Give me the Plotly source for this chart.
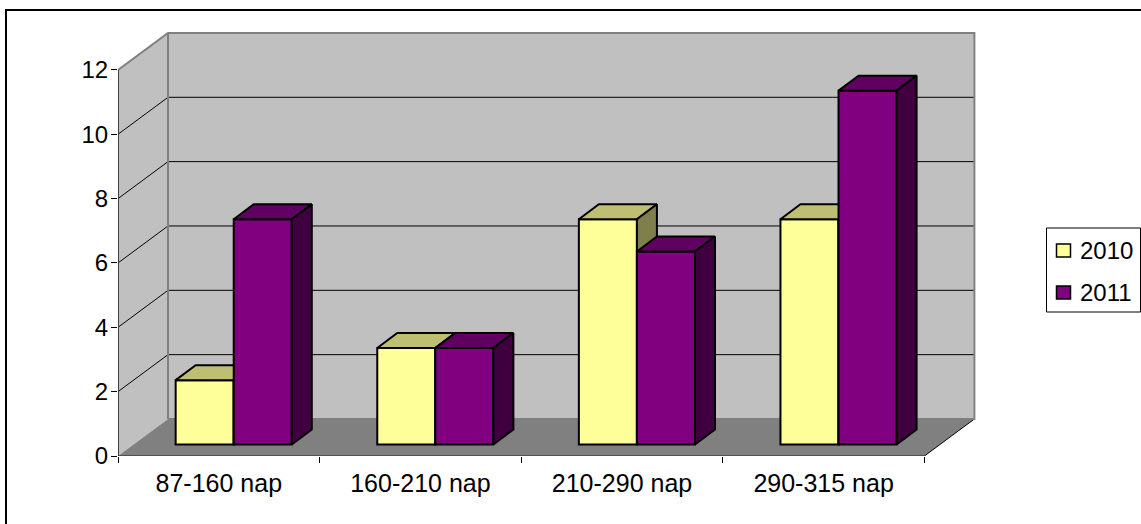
import plotly.graph_objects as go

categories = ["87-160 nap", "160-210 nap", "210-290 nap", "290-315 nap"]
series_names = ["2010", "2011"]
values_2010 = [2, 3, 7, 7]
values_2011 = [7, 3, 6, 11]
y_ticks = [0, 2, 4, 6, 8, 10, 12]

W, H = 1141, 524
X0, PX_GROUP = 118.0, 201.6      # pixel position of the axis origin, pixels per category
Y0, PX_UNIT = 456.0, 32.17       # pixel position of value 0, pixels per value unit
PLOT_R, PLOT_T = 977.0, 29.0

# 3-D projection offsets, in axis units
WALL_DX, WALL_DY = 50 / PX_GROUP, 37 / PX_UNIT
BAR_OFF, BAR_W = 0.286, 0.288
BASE = 11.5 / PX_UNIT
DEPTH_DX, DEPTH_DY = 20 / PX_GROUP, 15 / PX_UNIT
N = len(categories)
YMAX = max(y_ticks)

FONT = "Liberation Sans, Arial, sans-serif"
fig = go.Figure()


def poly(xs, ys, fill, axes, line_color="black", line_width=2):
    fig.add_trace(go.Scatter(
        x=xs + xs[:1], y=ys + ys[:1], mode="lines", fill="toself", fillcolor=fill,
        line=dict(color=line_color, width=line_width, simplify=False), showlegend=False,
        hoverinfo="skip", xaxis=axes[0], yaxis=axes[1], cliponaxis=False))


def bars(name, values, slot, front, top, side, axes):
    left = [i + BAR_OFF + slot * BAR_W for i in range(N)]
    fig.add_trace(go.Bar(
        name=name, x=[l + BAR_W / 2 for l in left], y=values, base=[BASE] * N, width=BAR_W,
        marker=dict(color=front, line=dict(color="black", width=2)), showlegend=False,
        xaxis=axes[0], yaxis=axes[1], cliponaxis=False))
    for l, v in zip(left, values):
        r, t = l + BAR_W, BASE + v
        poly([l, r, r + DEPTH_DX, l + DEPTH_DX], [t, t, t + DEPTH_DY, t + DEPTH_DY], top, axes)
        poly([r, r + DEPTH_DX, r + DEPTH_DX, r], [BASE, BASE + DEPTH_DY, t + DEPTH_DY, t], side, axes)


bars(series_names[0], values_2010, 0, "#FFFF99", "#BFBF73", "#7F7F4C", ("x", "y"))
bars(series_names[1], values_2011, 1, "#800080", "#600060", "#400040", ("x2", "y2"))

# front axis lines
fig.add_trace(go.Scatter(x=[0, 0], y=[0, YMAX], mode="lines", line=dict(color="#404040", width=2),
                         showlegend=False, hoverinfo="skip", cliponaxis=False))
fig.add_trace(go.Scatter(x=[0, N], y=[0, 0], mode="lines", line=dict(color="#202020", width=1.2),
                         showlegend=False, hoverinfo="skip", cliponaxis=False))

shapes = []


def path_shape(pts, fill=None, color=None, width=1):
    d = "M " + " L ".join(f"{x},{y}" for x, y in pts) + (" Z" if fill else "")
    shapes.append(dict(type="path", path=d, xref="x", yref="y", layer="below",
                       fillcolor=fill or "rgba(0,0,0,0)",
                       line=dict(color=color or "rgba(0,0,0,0)", width=width)))


wx, wy = WALL_DX, WALL_DY
path_shape([(0, 0), (wx, wy), (wx, YMAX + wy), (0, YMAX)], fill="#C0C0C0")
path_shape([(wx, wy), (N + wx, wy), (N + wx, YMAX + wy), (wx, YMAX + wy)], fill="#C0C0C0")
path_shape([(0, 0), (N, 0), (N + wx, wy), (wx, wy)], fill="#808080")
for v in y_ticks[1:-1]:
    path_shape([(0, v), (wx, v + wy), (N + wx, v + wy)], color="black", width=1)
path_shape([(N, 0), (N + wx, wy)], color="black", width=1)
path_shape([(0, YMAX), (wx, YMAX + wy), (N + wx, YMAX + wy), (N + wx, wy), (wx, wy)], color="#808080", width=2)
path_shape([(wx, wy), (wx, YMAX + wy)], color="#808080", width=2)

# chart frame (only top and left edges fall inside the picture)
shapes.append(dict(type="rect", xref="paper", yref="paper", x0=6 / W, x1=1.02, y0=-0.02, y1=1 - 10 / H,
                   line=dict(color="black", width=2), fillcolor="rgba(0,0,0,0)", layer="below"))

# legend
shapes.append(dict(type="rect", xref="paper", yref="paper", x0=1046.5 / W, x1=1140.5 / W,
                   y0=1 - 312 / H, y1=1 - 228 / H, line=dict(color="black", width=1), fillcolor="white"))
annotations = []
for name, col, yc in zip(series_names, ["#FFFF99", "#800080"], [250.0, 292.0]):
    shapes.append(dict(type="rect", xref="paper", yref="paper", x0=1056.5 / W, x1=1070.5 / W,
                       y0=1 - (yc + 7) / H, y1=1 - (yc - 6) / H,
                       line=dict(color="black", width=1.5), fillcolor=col))
    annotations.append(dict(text=name, xref="paper", yref="paper", x=1078 / W, y=1 - yc / H,
                            xanchor="left", yanchor="middle", showarrow=False,
                            font=dict(family=FONT, size=24, color="black")))

x_range = [0, (PLOT_R - X0) / PX_GROUP]
y_range = [0, (Y0 - PLOT_T) / PX_UNIT]
dom_x = [X0 / W, PLOT_R / W]
dom_y = [1 - Y0 / H, 1 - PLOT_T / H]

fig.update_layout(
    width=W, height=H, margin=dict(l=0, r=0, t=0, b=0), paper_bgcolor="white", plot_bgcolor="rgba(0,0,0,0)",
    barmode="overlay", showlegend=False, shapes=shapes, annotations=annotations,
    font=dict(family=FONT, size=24, color="black"),
    xaxis=dict(domain=dom_x, range=x_range, showgrid=False, zeroline=False, showline=False, automargin=False,
               tickmode="array", tickvals=[i + 0.5 for i in range(N)], ticktext=categories,
               ticks="", ticklabelstandoff=10, tickfont=dict(family=FONT, size=25),
               minor=dict(tickmode="array", tickvals=list(range(N + 1)), ticks="outside", ticklen=6,
                          tickwidth=1, tickcolor="black", showgrid=False)),
    yaxis=dict(domain=dom_y, range=y_range, showgrid=False, zeroline=False, showline=False, automargin=False,
               tickmode="array", tickvals=y_ticks, ticks="outside", ticklen=6, tickwidth=1,
               ticklabelstandoff=-2,
               tickcolor="black", tickfont=dict(family=FONT, size=24)),
    xaxis2=dict(domain=dom_x, range=x_range, overlaying="x", visible=False, automargin=False),
    yaxis2=dict(domain=dom_y, range=y_range, overlaying="y", visible=False, automargin=False),
)

fig.write_html("out.html", post_script="document.body.style.margin='0';document.body.style.overflow='hidden';",
               config={"displayModeBar": False})
